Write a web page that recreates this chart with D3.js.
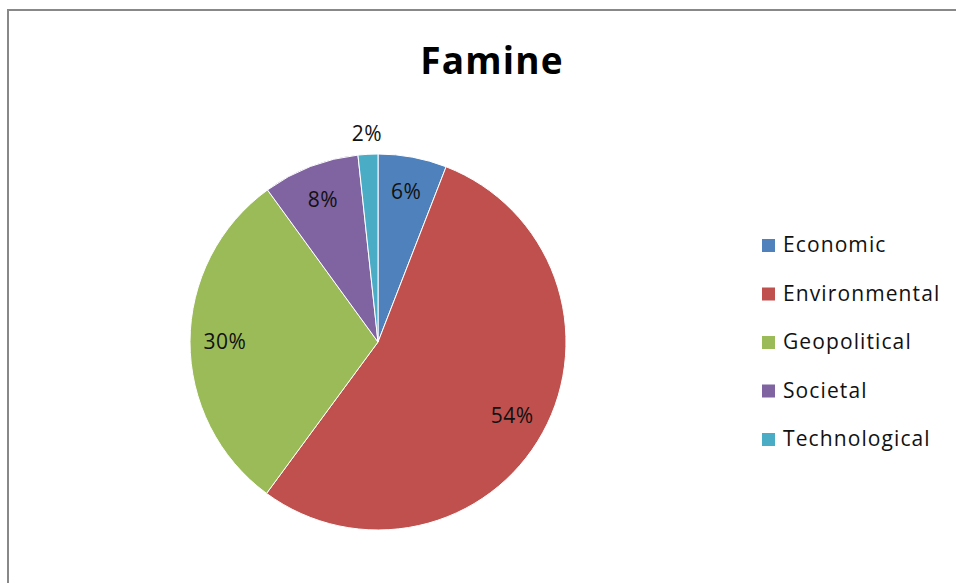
<!DOCTYPE html>
<html>
<head>
<meta charset="utf-8">
<script src="https://cdn.jsdelivr.net/npm/d3@7"></script>
<style>
  body { margin: 0; background: #fff; }
  svg { display: block; font-family: "Open Sans", sans-serif; }
</style>
</head>
<body>
<div id="chart"></div>
<script>
const title = 'Famine'
const categories = ['Economic', 'Environmental', 'Geopolitical', 'Societal', 'Technological']
const shares = [5.9, 54.2, 29.9, 8.3, 1.7]
const labels = ['6%', '54%', '30%', '8%', '2%']
const colors = ['#4f81bd', '#c0504d', '#9bbb59', '#8064a2', '#4bacc6']

const width = 956
const height = 583
const cx = 378
const cy = 342
const radius = 188

const svg = d3.select('#chart')
    .append('svg')
    .attr('width', width)
    .attr('height', height)

// frame, cut off at right and bottom like the screenshot
svg.append('rect')
    .attr('x', 8)
    .attr('y', 10)
    .attr('width', 1000)
    .attr('height', 1000)
    .attr('fill', 'none')
    .attr('stroke', '#888')
    .attr('stroke-width', 2)

svg.append('text')
    .attr('x', 492)
    .attr('y', 74)
    .attr('text-anchor', 'middle')
    .attr('font-size', 37)
    .attr('font-weight', 'bold')
    .attr('letter-spacing', 1.2)
    .attr('fill', '#000')
    .text(title)

const data = categories.map((c, i) => ({ name: c, value: shares[i], label: labels[i], color: colors[i] }))

const pie = d3.pie().sort(null).value((d) => d.value)
const arc = d3.arc().innerRadius(0).outerRadius(radius)
const labelArc = d3.arc().innerRadius(153).outerRadius(153)
const outerLabelArc = d3.arc().innerRadius(209).outerRadius(209)

const g = svg.append('g').attr('transform', `translate(${cx}, ${cy})`)
const arcs = pie(data)

g.selectAll('path')
    .data(arcs)
    .enter()
    .append('path')
    .attr('d', arc)
    .attr('fill', (d) => d.data.color)
    .attr('stroke', '#fff')
    .attr('stroke-width', 1)

g.selectAll('text')
    .data(arcs)
    .enter()
    .append('text')
    .attr('transform', (d) => {
        const p = d.data.value < 3 ? outerLabelArc.centroid(d) : labelArc.centroid(d)
        return `translate(${p[0]}, ${p[1]})`
    })
    .attr('text-anchor', 'middle')
    .attr('dy', '0.35em')
    .attr('font-size', 21)
    .attr('letter-spacing', 0.5)
    .attr('fill', '#111')
    .text((d) => d.data.label)

const legend = svg.append('g').attr('transform', 'translate(762, 245)')
const rowH = 48.5
const items = legend.selectAll('g')
    .data(data)
    .enter()
    .append('g')
    .attr('transform', (d, i) => `translate(0, ${i * rowH})`)
items.append('rect')
    .attr('x', 0)
    .attr('y', -6)
    .attr('width', 13)
    .attr('height', 13)
    .attr('fill', (d) => d.color)
items.append('text')
    .attr('x', 21)
    .attr('y', 0)
    .attr('dy', '0.35em')
    .attr('font-size', 21)
    .attr('letter-spacing', 1.1)
    .attr('fill', '#111')
    .text((d) => d.name)
</script>
</body>
</html>
